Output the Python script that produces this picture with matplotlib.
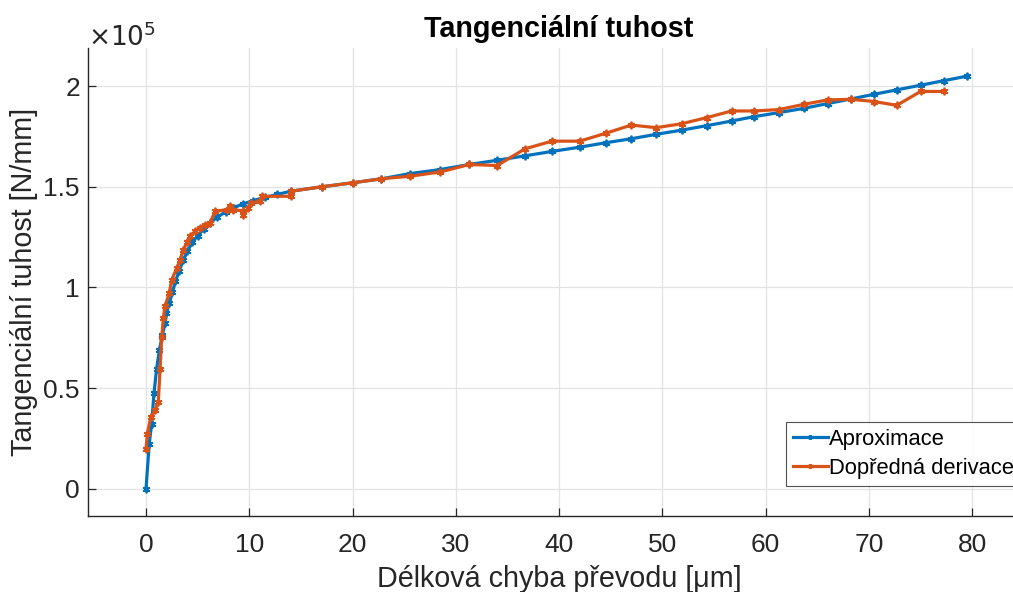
import numpy as np
import matplotlib as mpl
mpl.use('Agg')
import matplotlib.pyplot as plt
from matplotlib.ticker import FuncFormatter

# deformation [um] and stiffness [1e5 N/mm]
aprox_x = [0.00, 0.31, 0.55, 0.77, 1.03, 1.29, 1.58, 1.84, 1.98, 2.25,
           2.55, 2.85, 3.2, 3.6, 4.0, 4.5, 5.0, 5.6, 6.2, 6.9,
           7.7, 8.5, 9.4, 10.4, 11.5, 12.7, 14.0, 17.0, 20.0, 22.8,
           25.6, 28.5, 31.3, 34.0, 36.7, 39.3, 42.0, 44.5, 47.0, 49.4,
           51.9, 54.3, 56.7, 58.9, 61.3, 63.7, 66.0, 68.3, 70.5, 72.7,
           75.0, 77.3, 79.5]
aprox_k = [0.000, 0.223, 0.323, 0.475, 0.597, 0.688, 0.763, 0.821, 0.871, 0.921,
           0.975, 1.030, 1.080, 1.135, 1.180, 1.225, 1.258, 1.290, 1.320, 1.350,
           1.375, 1.397, 1.415, 1.432, 1.447, 1.462, 1.478, 1.500, 1.520, 1.540,
           1.566, 1.586, 1.611, 1.632, 1.654, 1.676, 1.697, 1.719, 1.739, 1.761,
           1.782, 1.804, 1.827, 1.849, 1.869, 1.890, 1.914, 1.937, 1.960, 1.982,
           2.005, 2.028, 2.050]

deriv_x = [0.00, 0.13, 0.46, 0.87, 1.19, 1.36, 1.52, 1.68, 1.84, 2.25,
           2.48, 2.98, 3.29, 3.61, 4.0, 4.26, 4.74, 5.23, 5.72, 6.19,
           6.68, 7.81, 8.14, 8.43, 9.43, 9.43, 9.9, 10.2, 11.0, 11.2,
           14.0, 14.0, 17.0, 20.0, 22.8, 25.6, 28.5, 31.3, 34.0, 36.7,
           39.3, 42.0, 44.5, 47.0, 49.4, 51.9, 54.3, 56.7, 58.9, 61.3,
           63.7, 66.0, 68.3, 70.5, 72.7, 75.0, 77.3]
deriv_k = [0.198, 0.273, 0.356, 0.389, 0.430, 0.597, 0.755, 0.846, 0.908, 0.971,
           1.037, 1.096, 1.137, 1.187, 1.228, 1.255, 1.278, 1.295, 1.312, 1.320,
           1.378, 1.387, 1.405, 1.387, 1.380, 1.362, 1.395, 1.420, 1.428, 1.453,
           1.453, 1.478, 1.500, 1.520, 1.540, 1.553, 1.574, 1.611, 1.606, 1.689,
           1.727, 1.727, 1.766, 1.807, 1.794, 1.814, 1.844, 1.877, 1.877, 1.884,
           1.910, 1.932, 1.935, 1.924, 1.905, 1.974, 1.974]

x_ticks = [0, 10, 20, 30, 40, 50, 60, 70, 80]
y_ticks = [0, 0.5e5, 1e5, 1.5e5, 2e5]

plt.rcParams['font.family'] = ['Liberation Sans', 'DejaVu Sans']

W, H = 1013, 592
fig = plt.figure(figsize=(W / 100, H / 100), dpi=100)
fig.patch.set_facecolor('white')
ax = fig.add_axes([88.3 / W, 1 - 516 / H, (1030 - 88.3) / W, (516 - 48) / H])

mk = (6, 2, 0)
ax.plot(aprox_x, np.array(aprox_k) * 1e5, '-', color='#0072BD', lw=2.3,
        marker=mk, ms=5.5, mew=1.3, label='Aproximace')
ax.plot(deriv_x, np.array(deriv_k) * 1e5, '-', color='#D95319', lw=2.3,
        marker=mk, ms=5.5, mew=1.3, label='Dopředná derivace')

ax.set_xlim(-5.59, 85.6)
ax.set_ylim(-0.136e5, 2.19e5)
ax.set_xticks(x_ticks)
ax.set_yticks(y_ticks)
ax.yaxis.set_major_formatter(FuncFormatter(lambda v, p: '%g' % (v / 1e5)))

ax.grid(True, color='#e3e3e3', lw=0.9)
ax.set_axisbelow(True)
for s in ['top', 'right']:
    ax.spines[s].set_visible(False)
for s in ['left', 'bottom']:
    ax.spines[s].set_color('#262626')
    ax.spines[s].set_linewidth(1.0)
ax.tick_params(direction='in', length=6, width=0.9, color='#262626',
               labelcolor='#262626', labelsize=19)
ax.tick_params(axis='x', pad=12)
ax.tick_params(axis='y', pad=6)

ax.text(0.0, 0.993, r'$\times10^{5}$', transform=ax.transAxes, fontsize=19,
        color='#262626', ha='left', va='bottom')

ax.set_title('Tangenciální tuhost', fontsize=20.7, fontweight='bold', pad=8)
ax.set_xlabel('Délková chyba převodu [μm]', fontsize=20.7, color='#262626', labelpad=6)
ax.set_ylabel('Tangenciální tuhost [N/mm]', fontsize=20.7, color='#262626', labelpad=4)

leg = ax.legend(loc='upper left', bbox_to_anchor=(785.7 / W, 1 - 421.7 / H),
                bbox_transform=fig.transFigure, fontsize=15.8, frameon=True,
                fancybox=False, edgecolor='#262626', handlelength=1.6,
                handletextpad=0.05, borderpad=0.32, labelspacing=0.36,
                borderaxespad=0, markerscale=0.6)
leg.get_frame().set_linewidth(0.8)

fig.savefig('out.png', dpi=100)
